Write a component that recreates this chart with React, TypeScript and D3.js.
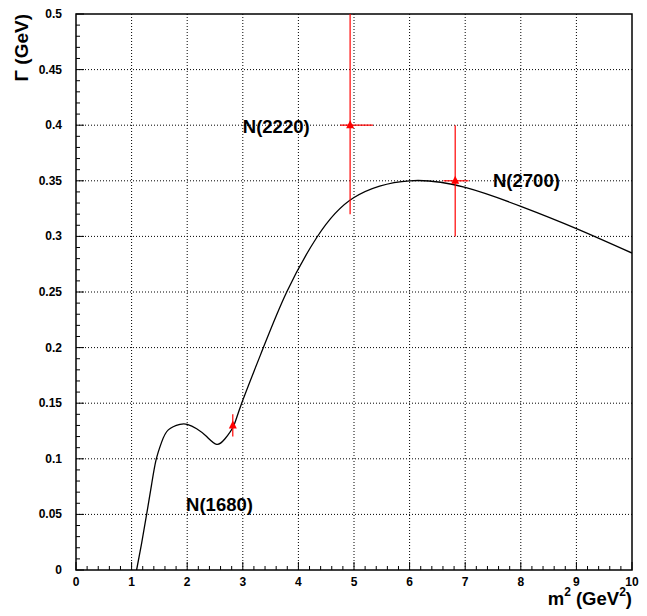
import React from "react";
import * as d3 from "d3";

const curveX = [1.09, 1.18, 1.27, 1.36, 1.44, 1.54, 1.66, 1.87, 2.0, 2.17, 2.35, 2.53, 2.68, 2.83, 2.98, 3.37, 3.79, 4.33, 5.0, 6.0, 7.0, 8.0, 9.0, 10.0];
const curveY = [0.0, 0.024, 0.05, 0.077, 0.099, 0.115, 0.126, 0.131, 0.131, 0.127, 0.12, 0.113, 0.118, 0.129, 0.15, 0.2, 0.25, 0.299, 0.335, 0.35, 0.344, 0.327, 0.307, 0.285];

const pointNames = ["N(1680)", "N(2220)", "N(2700)"];
const pointX = [2.82, 4.93, 6.82];
const pointY = [0.13, 0.4, 0.35];
const pointXLow = [2.82, 4.75, 6.61];
const pointXHigh = [2.82, 5.34, 7.06];
const pointYLow = [0.12, 0.32, 0.3];
const pointYHigh = [0.14, 0.6, 0.4];
const labelX = [1.98, 3.0, 7.5];
const labelY = [0.059, 0.399, 0.351];

const xTicks = [0, 1, 2, 3, 4, 5, 6, 7, 8, 9, 10];
const yTicks = [0, 0.05, 0.1, 0.15, 0.2, 0.25, 0.3, 0.35, 0.4, 0.45, 0.5];

export default function App() {
  const W = 647, H = 616;
  const L = 76, R = 632, T = 14, B = 570;
  const x = d3.scaleLinear().domain([0, 10]).range([L, R]);
  const y = d3.scaleLinear().domain([0, 0.5]).range([B, T]);
  const font = "Liberation Sans, Arial, Helvetica, sans-serif";

  const pts: [number, number][] = curveX.map((v, i) => [v, curveY[i]]);
  const line = d3.line<[number, number]>()
    .x(d => x(d[0]))
    .y(d => y(d[1]))
    .curve(d3.curveNatural);

  const xMinor = d3.range(0, 10.001, 0.2);
  const yMinor = d3.range(0, 0.5001, 0.01);

  return (
    <svg width={W} height={H} style={{ position: "absolute", left: 0, top: 0, background: "#fff" }}>
      <defs>
        <clipPath id="frame">
          <rect x={L} y={T} width={R - L} height={B - T} />
        </clipPath>
      </defs>
      <rect x={0} y={0} width={W} height={H} fill="#fff" />
      {xTicks.slice(1, -1).map(t => (
        <line key={"gx" + t} x1={x(t)} x2={x(t)} y1={B} y2={T} stroke="#000" strokeWidth={1} strokeDasharray="1,2" />
      ))}
      {yTicks.slice(1, -1).map(t => (
        <line key={"gy" + t} x1={L} x2={R} y1={y(t)} y2={y(t)} stroke="#000" strokeWidth={1} strokeDasharray="1,2" />
      ))}
      {xMinor.map((t, i) => (
        <line key={"mx" + i} x1={x(t)} x2={x(t)} y1={B} y2={B - (i % 5 === 0 ? 8 : 4)} stroke="#000" strokeWidth={1} />
      ))}
      {yMinor.map((t, i) => (
        <line key={"my" + i} x1={L} x2={L + (i % 5 === 0 ? 8 : 4)} y1={y(t)} y2={y(t)} stroke="#000" strokeWidth={1} />
      ))}
      <rect x={L} y={T} width={R - L} height={B - T} fill="none" stroke="#000" strokeWidth={1.5} />
      <g clipPath="url(#frame)">
        <path d={line(pts) || ""} fill="none" stroke="#000" strokeWidth={1.3} />
        {pointX.map((px, i) => {
          const cx = x(px), cy = y(pointY[i]);
          return (
            <g key={"p" + i}>
              <line x1={x(pointXLow[i])} x2={x(pointXHigh[i])} y1={cy} y2={cy} stroke="#ff0000" strokeWidth={1.2} />
              <line x1={cx} x2={cx} y1={y(pointYLow[i])} y2={y(pointYHigh[i])} stroke="#ff0000" strokeWidth={1.2} />
              <path d={`M${cx - 4},${cy + 3} L${cx + 4},${cy + 3} L${cx},${cy - 5} Z`} fill="#ff0000" />
            </g>
          );
        })}
      </g>
      {xTicks.map(t => (
        <text key={"xl" + t} x={x(t)} y={586} textAnchor="middle" fontFamily={font} fontWeight="bold" fontSize={12}>{t}</text>
      ))}
      {yTicks.map(t => (
        <text key={"yl" + t} x={62} y={y(t) + 4} textAnchor="end" fontFamily={font} fontWeight="bold" fontSize={12}>{String(t)}</text>
      ))}
      <text x={R} y={605} textAnchor="end" fontFamily={font} fontWeight="bold" fontSize={18.5}>
        m<tspan dy={-9} fontSize={12}>2</tspan><tspan dy={9}> (GeV</tspan><tspan dy={-9} fontSize={12}>2</tspan><tspan dy={9}>)</tspan>
      </text>
      <text transform={`translate(28,${T}) rotate(-90)`} textAnchor="end" fontFamily={font} fontWeight="bold" fontSize={19}>
        Γ (GeV)
      </text>
      {pointNames.map((n, i) => (
        <text key={"n" + i} x={x(labelX[i])} y={y(labelY[i]) + 7} fontFamily={font} fontWeight="bold" fontSize={18.5}>{n}</text>
      ))}
    </svg>
  );
}
